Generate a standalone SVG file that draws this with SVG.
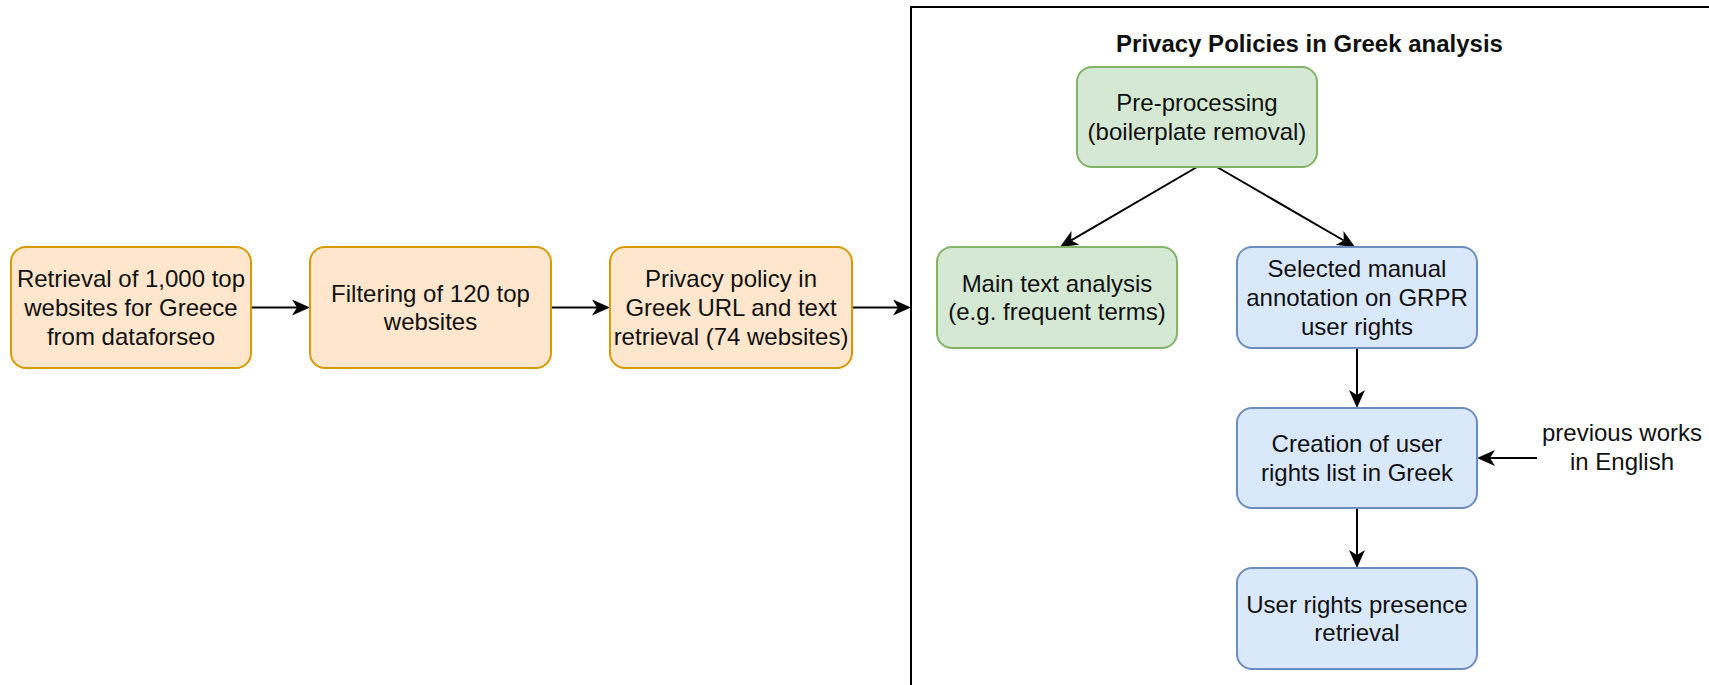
<svg xmlns="http://www.w3.org/2000/svg" width="1709" height="685" viewBox="0 0 1709 685">
<style>
text{font-family:"Liberation Sans",Arial,Helvetica,sans-serif;font-size:24px;fill:#111;text-anchor:middle}
.title{font-weight:bold}
.orange{fill:#ffe6cc;stroke:#d79b00;stroke-width:2}
.green{fill:#d5e8d4;stroke:#82b366;stroke-width:2}
.blue{fill:#dae8fc;stroke:#6c8ebf;stroke-width:2}
.frame{fill:none;stroke:#000;stroke-width:2}
.edge{fill:none;stroke:#000;stroke-width:2}
</style>
<defs>
<marker id="arrow" viewBox="0 0 18 16" markerWidth="18" markerHeight="16" refX="5" refY="8" orient="auto" markerUnits="userSpaceOnUse">
<path d="M0,0 L18,8 L0,16 L5,8 Z" fill="#000"/>
</marker>
</defs>
<rect width="1709" height="685" fill="#fff"/>
<g id="frame">
<rect class="frame" x="911" y="7" width="900" height="800"/>
<text class="title" x="1309.5" y="52">Privacy Policies in Greek analysis</text>
</g>
<g id="connectors">
<line class="edge" x1="251" y1="307.5" x2="297" y2="307.5" marker-end="url(#arrow)"/>
<line class="edge" x1="551" y1="307.5" x2="597" y2="307.5" marker-end="url(#arrow)"/>
<line class="edge" x1="852" y1="307.5" x2="898" y2="307.5" marker-end="url(#arrow)"/>
<line class="edge" x1="1197" y1="167" x2="1071.2" y2="240.4" marker-end="url(#arrow)"/>
<line class="edge" x1="1217" y1="167" x2="1343.8" y2="240.5" marker-end="url(#arrow)"/>
<line class="edge" x1="1357" y1="348" x2="1357" y2="395" marker-end="url(#arrow)"/>
<line class="edge" x1="1357" y1="508" x2="1357" y2="555" marker-end="url(#arrow)"/>
<line class="edge" x1="1537" y1="458" x2="1490" y2="458" marker-end="url(#arrow)"/>
</g>
<g id="n1">
<rect class="orange" x="11" y="247" width="240" height="121" rx="15"/>
<text x="131" y="287.1">Retrieval of 1,000 top</text>
<text x="131" y="315.9">websites for Greece</text>
<text x="131" y="344.7">from dataforseo</text>
</g>
<g id="n2">
<rect class="orange" x="310" y="247" width="241" height="121" rx="15"/>
<text x="430.5" y="301.5">Filtering of 120 top</text>
<text x="430.5" y="330.3">websites</text>
</g>
<g id="n3">
<rect class="orange" x="610" y="247" width="242" height="121" rx="15"/>
<text x="731" y="287.1">Privacy policy in</text>
<text x="731" y="315.9">Greek URL and text</text>
<text x="731" y="344.7">retrieval (74 websites)</text>
</g>
<g id="n4">
<rect class="green" x="1077" y="67" width="240" height="100" rx="15"/>
<text x="1197" y="111">Pre-processing</text>
<text x="1197" y="139.8">(boilerplate removal)</text>
</g>
<g id="n5">
<rect class="green" x="937" y="247" width="240" height="101" rx="15"/>
<text x="1057" y="291.5">Main text analysis</text>
<text x="1057" y="320.3">(e.g. frequent terms)</text>
</g>
<g id="n6">
<rect class="blue" x="1237" y="247" width="240" height="101" rx="15"/>
<text x="1357" y="277.1">Selected manual</text>
<text x="1357" y="305.9">annotation on GRPR</text>
<text x="1357" y="334.7">user rights</text>
</g>
<g id="n7">
<rect class="blue" x="1237" y="408" width="240" height="100" rx="15"/>
<text x="1357" y="452">Creation of user</text>
<text x="1357" y="480.8">rights list in Greek</text>
</g>
<g id="n8">
<rect class="blue" x="1237" y="568" width="240" height="101" rx="15"/>
<text x="1357" y="612.5">User rights presence</text>
<text x="1357" y="641.3">retrieval</text>
</g>
<g id="n9">
<text x="1622" y="441">previous works</text>
<text x="1622" y="470">in English</text>
</g>
</svg>
